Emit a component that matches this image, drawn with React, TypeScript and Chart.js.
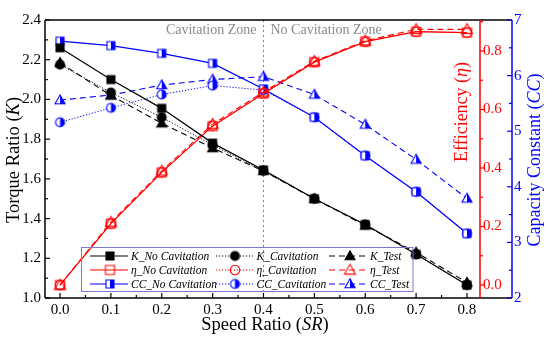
import React, { useEffect, useRef } from 'react';
import { Chart, registerables } from 'chart.js';

Chart.register(...registerables);

// ---------------- data ----------------
const SR = [0.0, 0.1, 0.2, 0.3, 0.4, 0.5, 0.6, 0.7, 0.8];

const K_NO_CAV = [2.26, 2.10, 1.955, 1.78, 1.645, 1.50, 1.37, 1.22, 1.065];
const K_CAV = [2.175, 2.035, 1.91, 1.77, 1.64, 1.50, 1.37, 1.22, 1.065];
const K_TEST = [2.185, 2.02, 1.88, 1.755, 1.64, 1.50, 1.365, 1.23, 1.078];

const ETA_NO_CAV = [0.0, 0.21, 0.385, 0.543, 0.655, 0.762, 0.832, 0.866, 0.863];
const ETA_CAV = [0.0, 0.21, 0.385, 0.545, 0.655, 0.762, 0.832, 0.866, 0.863];
const ETA_TEST = [0.0, 0.215, 0.39, 0.55, 0.66, 0.765, 0.835, 0.874, 0.874];

const CC_NO_CAV = [6.62, 6.54, 6.40, 6.22, 5.76, 5.25, 4.56, 3.91, 3.16];
const CC_CAV = [5.16, 5.42, 5.66, 5.82, 5.74, 5.25, 4.56, 3.91, 3.16];
const CC_TEST = [5.56, 5.65, 5.83, 5.93, 5.98, 5.66, 5.12, 4.49, 3.79];

const SR_TICKS = [0.0, 0.1, 0.2, 0.3, 0.4, 0.5, 0.6, 0.7, 0.8];
const K_TICKS = [1.0, 1.2, 1.4, 1.6, 1.8, 2.0, 2.2, 2.4];
const ETA_TICKS = [0.0, 0.2, 0.4, 0.6, 0.8];
const CC_TICKS = [2, 3, 4, 5, 6, 7];

const ZONE_SPLIT = 0.4;

const SERIF = "'Liberation Serif', 'DejaVu Serif', 'Times New Roman', serif";
const BLACK = '#000000';
const RED = '#ff0000';
const BLUE = '#0000ff';

type Shape = 'square' | 'circle' | 'triangle';
type FillMode = 'full' | 'none' | 'half';

function makeMarker(shape: Shape, color: string, fill: FillMode, size: number): HTMLCanvasElement {
  const S = Math.ceil(size + 4);
  const c = document.createElement('canvas');
  c.width = S;
  c.height = S;
  const ctx = c.getContext('2d') as CanvasRenderingContext2D;
  const cx = S / 2;
  const cy = S / 2;
  const h = size / 2;
  const path = () => {
    ctx.beginPath();
    if (shape === 'square') {
      ctx.rect(cx - h, cy - h, size, size);
    } else if (shape === 'circle') {
      ctx.arc(cx, cy, h, 0, Math.PI * 2);
    } else {
      const ht = size * 0.9;
      ctx.moveTo(cx, cy - ht * 0.58);
      ctx.lineTo(cx + h, cy + ht * 0.42);
      ctx.lineTo(cx - h, cy + ht * 0.42);
      ctx.closePath();
    }
  };
  ctx.lineWidth = 1.1;
  ctx.strokeStyle = color;
  if (fill === 'full') {
    path();
    ctx.fillStyle = color;
    ctx.fill();
    ctx.stroke();
  } else if (fill === 'none') {
    path();
    ctx.stroke();
  } else {
    path();
    ctx.fillStyle = '#ffffff';
    ctx.fill();
    ctx.save();
    ctx.beginPath();
    ctx.rect(cx, 0, S, S);
    ctx.clip();
    path();
    ctx.fillStyle = color;
    ctx.fill();
    ctx.restore();
    path();
    ctx.stroke();
  }
  return c;
}

const X_MIN = -0.0295;
const X_MAX = 0.8256;

function pts(arr: number[]) {
  return SR.map((x, i) => ({ x, y: arr[i] }));
}

type Seg = { t: string; i?: boolean };

function drawPieces(ctx: CanvasRenderingContext2D, pieces: Seg[], size: number, cx: number, cy: number, rotate: boolean, color: string) {
  const fontN = `${size}px ${SERIF}`;
  const fontI = `italic ${size}px ${SERIF}`;
  let total = 0;
  const widths = pieces.map((p) => {
    ctx.font = p.i ? fontI : fontN;
    const w = ctx.measureText(p.t).width;
    total += w;
    return w;
  });
  ctx.save();
  ctx.translate(cx, cy);
  if (rotate) ctx.rotate(-Math.PI / 2);
  ctx.fillStyle = color;
  ctx.textBaseline = 'middle';
  ctx.textAlign = 'left';
  let x = -total / 2;
  pieces.forEach((p, k) => {
    ctx.font = p.i ? fontI : fontN;
    ctx.fillText(p.t, x, 0);
    x += widths[k];
  });
  ctx.restore();
}

const App: React.FC = () => {
  const ref = useRef<HTMLCanvasElement | null>(null);

  useEffect(() => {
    document.body.style.margin = '0';
    const canvas = ref.current;
    if (!canvas) return;

    const mk = {
      kNo: makeMarker('square', BLACK, 'full', 8),
      kCav: makeMarker('circle', BLACK, 'full', 9),
      kTest: makeMarker('triangle', BLACK, 'full', 10),
      eNo: makeMarker('square', RED, 'none', 9),
      eCav: makeMarker('circle', RED, 'none', 9.5),
      eTest: makeMarker('triangle', RED, 'none', 11),
      cNo: makeMarker('square', BLUE, 'half', 8),
      cCav: makeMarker('circle', BLUE, 'half', 9),
      cTest: makeMarker('triangle', BLUE, 'half', 10),
    };

    const SOLID: number[] = [];
    const DOT = [1.2, 1.8];
    const DASH = [6, 4];

    const ds = (label: string, data: number[], axis: string, color: string, dash: number[], marker: HTMLCanvasElement, width: number) => ({
      label,
      data: pts(data),
      yAxisID: axis,
      borderColor: color,
      backgroundColor: color,
      borderWidth: width,
      borderDash: dash,
      pointStyle: marker,
      pointRadius: 5,
      pointHoverRadius: 5,
      fill: false,
      tension: 0,
      clip: false as any,
    });

    const datasets = [
      ds('K_No Cavitation', K_NO_CAV, 'y', BLACK, SOLID, mk.kNo, 1.2),
      ds('K_Cavitation', K_CAV, 'y', BLACK, DOT, mk.kCav, 1),
      ds('K_Test', K_TEST, 'y', BLACK, DASH, mk.kTest, 1.1),
      ds('η_No Cavitation', ETA_NO_CAV, 'eta', RED, SOLID, mk.eNo, 1.2),
      ds('η_Cavitation', ETA_CAV, 'eta', RED, DOT, mk.eCav, 1),
      ds('η_Test', ETA_TEST, 'eta', RED, DASH, mk.eTest, 1.1),
      ds('CC_No Cavitation', CC_NO_CAV, 'cc', BLUE, SOLID, mk.cNo, 1.2),
      ds('CC_Cavitation', CC_CAV, 'cc', BLUE, DOT, mk.cCav, 1),
      ds('CC_Test', CC_TEST, 'cc', BLUE, DASH, mk.cTest, 1.1),
    ];

    const legendCols = [
      [datasets[0], datasets[3], datasets[6]],
      [datasets[1], datasets[4], datasets[7]],
      [datasets[2], datasets[5], datasets[8]],
    ];

    const tickFont = { family: SERIF, size: 15 };

    const decor = {
      id: 'decor',
      beforeDatasetsDraw(chart: any) {
        const { ctx, chartArea: ca } = chart;
        const xs = chart.scales.x;
        const xp = xs.getPixelForValue(ZONE_SPLIT);
        ctx.save();
        ctx.strokeStyle = '#808080';
        ctx.lineWidth = 1;
        ctx.setLineDash([2, 3]);
        ctx.beginPath();
        ctx.moveTo(Math.round(xp) + 0.5, ca.top);
        ctx.lineTo(Math.round(xp) + 0.5, ca.bottom);
        ctx.stroke();
        ctx.setLineDash([]);
        ctx.font = `14px ${SERIF}`;
        ctx.fillStyle = '#8a8a8a';
        ctx.textBaseline = 'middle';
        ctx.textAlign = 'right';
        ctx.fillText('Cavitation Zone', xp - 7, ca.top + 10);
        ctx.textAlign = 'left';
        ctx.fillText('No Cavitation Zone', xp + 7, ca.top + 10);
        ctx.restore();
      },
      afterDraw(chart: any) {
        const { ctx, chartArea: ca } = chart;
        const xs = chart.scales.x;
        const ks = chart.scales.y;
        const es = chart.scales.eta;
        const cs = chart.scales.cc;
        const redX = es.left;
        const blueX = cs.left;
        ctx.save();
        const line = (x1: number, y1: number, x2: number, y2: number) => {
          ctx.beginPath();
          ctx.moveTo(x1, y1);
          ctx.lineTo(x2, y2);
          ctx.stroke();
        };
        // frame
        ctx.lineWidth = 1.5;
        ctx.strokeStyle = BLACK;
        line(ca.left, ca.top, blueX, ca.top);
        line(ca.left, ca.bottom, blueX, ca.bottom);
        line(ca.left, ca.top, ca.left, ca.bottom);
        ctx.strokeStyle = RED;
        line(redX, ca.top, redX, ca.bottom);
        ctx.strokeStyle = BLUE;
        line(blueX, ca.top, blueX, ca.bottom);

        // ticks
        ctx.lineWidth = 1.2;
        ctx.strokeStyle = BLACK;
        K_TICKS.forEach((v, i) => {
          const y = ks.getPixelForValue(v);
          line(ca.left, y, ca.left + 5, y);
          if (i < K_TICKS.length - 1) {
            const ym = ks.getPixelForValue((v + K_TICKS[i + 1]) / 2);
            line(ca.left, ym, ca.left + 3, ym);
          }
        });
        SR_TICKS.forEach((v, i) => {
          const x = xs.getPixelForValue(v);
          line(x, ca.bottom, x, ca.bottom - 5);
          if (i < SR_TICKS.length - 1) {
            const xm = xs.getPixelForValue((v + SR_TICKS[i + 1]) / 2);
            line(xm, ca.bottom, xm, ca.bottom - 3);
          }
        });
        ctx.strokeStyle = RED;
        ETA_TICKS.forEach((v, i) => {
          const y = es.getPixelForValue(v);
          line(redX, y, redX + 5, y);
          const next = i < ETA_TICKS.length - 1 ? ETA_TICKS[i + 1] : v + 0.2;
          const mid = (v + next) / 2;
          if (mid < es.max) {
            const ym = es.getPixelForValue(mid);
            line(redX, ym, redX + 3, ym);
          }
        });
        ctx.strokeStyle = BLUE;
        CC_TICKS.forEach((v, i) => {
          const y = cs.getPixelForValue(v);
          line(blueX, y, blueX - 5, y);
          if (i < CC_TICKS.length - 1) {
            const ym = cs.getPixelForValue((v + CC_TICKS[i + 1]) / 2);
            line(blueX, ym, blueX - 3, ym);
          }
        });

        // axis titles
        drawPieces(ctx, [{ t: 'Torque Ratio (' }, { t: 'K', i: true }, { t: ')' }], 18.5, 14, 160, true, BLACK);
        drawPieces(ctx, [{ t: 'Speed Ratio (' }, { t: 'SR', i: true }, { t: ')' }], 18.5, 265, 325, false, BLACK);
        drawPieces(ctx, [{ t: 'Efficiency (' }, { t: 'η', i: true }, { t: ')' }], 18, 462, 112, true, RED);
        drawPieces(ctx, [{ t: 'Capacity Constant (' }, { t: 'CC', i: true }, { t: ')' }], 18, 535, 160, true, BLUE);

        // legend
        const bx = 81.5, by = 247.5, bw = 331.5, bh = 44;
        ctx.lineWidth = 1;
        ctx.strokeStyle = '#7a7ad6';
        ctx.strokeRect(bx, by, bw, bh);
        const colDefs = [
          { l1: 90, l2: 128, m: 110, t: 131 },
          { l1: 216, l2: 253, m: 235, t: 256.5 },
          { l1: 329, l2: 367, m: 350, t: 370 },
        ];
        const rowsY = [256, 270, 284];
        ctx.font = `italic 11.5px ${SERIF}`;
        ctx.textBaseline = 'middle';
        ctx.textAlign = 'left';
        legendCols.forEach((col, ci) => {
          const cd = colDefs[ci];
          col.forEach((d: any, ri) => {
            const y = rowsY[ri];
            ctx.strokeStyle = d.borderColor;
            ctx.lineWidth = d.borderWidth;
            ctx.setLineDash(d.borderDash);
            line(cd.l1, y, cd.l2, y);
            ctx.setLineDash([]);
            const img = d.pointStyle as HTMLCanvasElement;
            ctx.drawImage(img, cd.m - img.width / 2, y - img.height / 2);
            ctx.fillStyle = BLACK;
            ctx.fillText(d.label, cd.t, y + 0.5);
          });
        });
        ctx.restore();
      },
    };

    const chart = new Chart(canvas, {
      type: 'line',
      data: { datasets: datasets as any },
      options: {
        responsive: false,
        animation: false,
        devicePixelRatio: 1,
        layout: { padding: { top: 20, left: 0, right: 0, bottom: 0 } },
        plugins: { legend: { display: false }, tooltip: { enabled: false } },
        elements: { line: { tension: 0 } },
        scales: {
          x: {
            type: 'linear',
            min: X_MIN,
            max: X_MAX,
            grid: { display: false, drawTicks: false },
            border: { display: false },
            afterFit: (s: any) => { s.height = 40; },
            afterBuildTicks: (s: any) => { s.ticks = SR_TICKS.map((v) => ({ value: v })); },
            ticks: {
              font: tickFont,
              color: BLACK,
              padding: 3,
              maxRotation: 0,
              autoSkip: false,
              callback: (v: any) => Number(v).toFixed(1),
            },
          },
          y: {
            type: 'linear',
            position: 'left',
            min: 1.0,
            max: 2.4,
            grid: { display: false, drawTicks: false },
            border: { display: false },
            afterFit: (s: any) => { s.width = 45; },
            afterBuildTicks: (s: any) => { s.ticks = K_TICKS.map((v) => ({ value: v })); },
            ticks: {
              font: tickFont,
              color: BLACK,
              padding: 4,
              autoSkip: false,
              callback: (v: any) => Number(v).toFixed(1),
            },
          },
          eta: {
            type: 'linear',
            position: 'right',
            weight: 1,
            min: -0.0444,
            max: 0.906,
            grid: { display: false, drawTicks: false },
            border: { display: false },
            afterFit: (s: any) => { s.width = 32; },
            afterBuildTicks: (s: any) => { s.ticks = ETA_TICKS.map((v) => ({ value: v })); },
            ticks: {
              font: tickFont,
              color: RED,
              padding: 3,
              autoSkip: false,
              callback: (v: any) => Number(v).toFixed(1),
            },
          },
          cc: {
            type: 'linear',
            position: 'right',
            weight: 2,
            min: 2,
            max: 7,
            grid: { display: false, drawTicks: false },
            border: { display: false },
            afterFit: (s: any) => { s.width = 38; },
            afterBuildTicks: (s: any) => { s.ticks = CC_TICKS.map((v) => ({ value: v })); },
            ticks: {
              font: tickFont,
              color: BLUE,
              padding: 2,
              autoSkip: false,
              callback: (v: any) => Number(v).toFixed(0),
            },
          },
        },
      } as any,
      plugins: [decor],
    });

    return () => {
      chart.destroy();
    };
  }, []);

  return (
    <div style={{ position: 'absolute', left: 0, top: 0, width: 550, height: 338, background: '#ffffff' }}>
      <canvas ref={ref} width={550} height={338} style={{ width: 550, height: 338, display: 'block' }} />
    </div>
  );
};

export default App;
